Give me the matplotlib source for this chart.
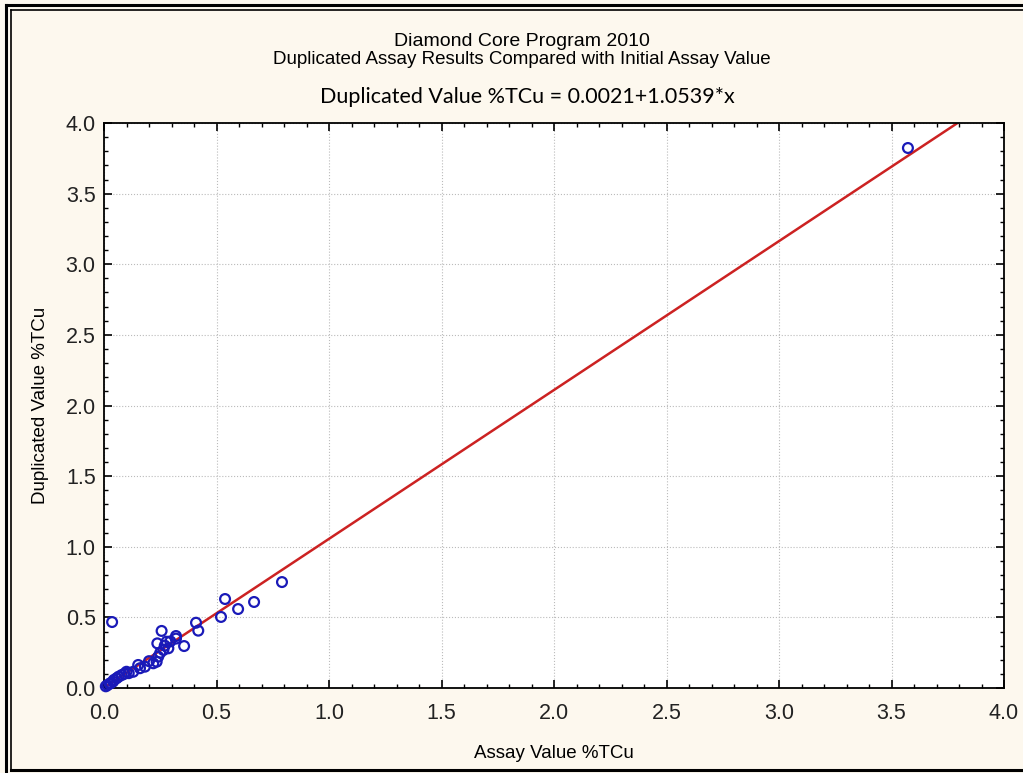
import matplotlib
matplotlib.use("Agg")
import matplotlib.pyplot as plt
from matplotlib.lines import Line2D
from matplotlib.ticker import MultipleLocator, FormatStrFormatter
import numpy as np

# assay pairs (initial, duplicate)
assay = [3.573, 0.791, 0.667, 0.596, 0.538, 0.520, 0.036, 0.409, 0.419, 0.320,
         0.356, 0.256, 0.237, 0.278, 0.286, 0.264, 0.234, 0.241, 0.219, 0.182,
         0.152, 0.130, 0.100, 0.079, 0.056, 0.044, 0.030, 0.015, 0.295, 0.320,
         0.250, 0.200, 0.110, 0.065, 0.025, 0.008, 0.160, 0.090, 0.270, 0.040]
duplicate = [3.823, 0.750, 0.609, 0.559, 0.630, 0.503, 0.467, 0.462, 0.406, 0.368,
             0.297, 0.404, 0.316, 0.328, 0.281, 0.269, 0.186, 0.222, 0.175, 0.151,
             0.163, 0.115, 0.115, 0.092, 0.069, 0.057, 0.035, 0.020, 0.330, 0.350,
             0.250, 0.190, 0.105, 0.080, 0.030, 0.012, 0.140, 0.100, 0.300, 0.045]
intercept = 0.0021
slope = 1.0539

bg = "#fdf8ee"
sans = ["Liberation Sans", "DejaVu Sans"]

fig = plt.figure(figsize=(10.23, 7.73), dpi=100, facecolor=bg)
ax = fig.add_axes([104/1023, 1-688/773, 900/1023, 565/773])
ax.set_facecolor("white")

xs = np.array([0.0, 4.2])
ax.plot(xs, intercept + slope*xs, color="#cc2222", lw=1.8, zorder=2)
ax.scatter(assay, duplicate, s=50, facecolors="none", edgecolors="#1a1ab8",
           linewidths=1.6, zorder=3, clip_on=False)

ax.set_xlim(0, 4)
ax.set_ylim(0, 4)
ax.xaxis.set_major_locator(MultipleLocator(0.5))
ax.yaxis.set_major_locator(MultipleLocator(0.5))
ax.xaxis.set_minor_locator(MultipleLocator(0.1))
ax.yaxis.set_minor_locator(MultipleLocator(0.1))
ax.tick_params(which="both", direction="in", top=True, right=True, colors="black")
ax.tick_params(which="major", length=6, width=1.2, labelsize=15.5, pad=6)
ax.tick_params(which="minor", length=3, width=1)
ax.tick_params(axis="x", pad=11)
ax.xaxis.set_major_formatter(FormatStrFormatter("%.1f"))
ax.yaxis.set_major_formatter(FormatStrFormatter("%.1f"))
for lab in ax.get_xticklabels() + ax.get_yticklabels():
    lab.set_family(sans)
    lab.set_color("#222222")
ax.grid(True, which="major", ls=":", lw=0.8, color="#bbbbbb")
for sp in ax.spines.values():
    sp.set_linewidth(1.3)

ax.set_xlabel("Assay Value %TCu", fontsize=13.5, family=sans, labelpad=15)
ax.set_ylabel("Duplicated Value %TCu", fontsize=13.5, family=sans, labelpad=12)

fig.text(522/1023, 1-41/773, "Diamond Core Program 2010", ha="center", va="center",
         fontsize=14, family=sans)
fig.text(522/1023, 1-60/773, "Duplicated Assay Results Compared with Initial Assay Value",
         ha="center", va="center", fontsize=13.5, family=sans)
fig.text(527/1023, 1-97/773, "Duplicated Value %TCu = 0.0021+1.0539*x", ha="center",
         va="center", fontsize=15.5, family=["Lato", "DejaVu Sans"])

# double frame round the picture
W, H = 1023, 773
def px_line(x0, y0, x1, y1, lw):
    fig.add_artist(Line2D([x0/W, x1/W], [1-y0/H, 1-y1/H], color="black", lw=lw,
                          transform=fig.transFigure))
px_line(6, 5, 1023, 5, 2.2)
px_line(11, 10, 1023, 10, 1.2)
px_line(6, 5, 6, 773, 2.2)
px_line(11, 10, 11, 770, 1.2)
px_line(11, 770, 1023, 770, 2.2)

fig.savefig("out.png", dpi=100, facecolor=bg)
